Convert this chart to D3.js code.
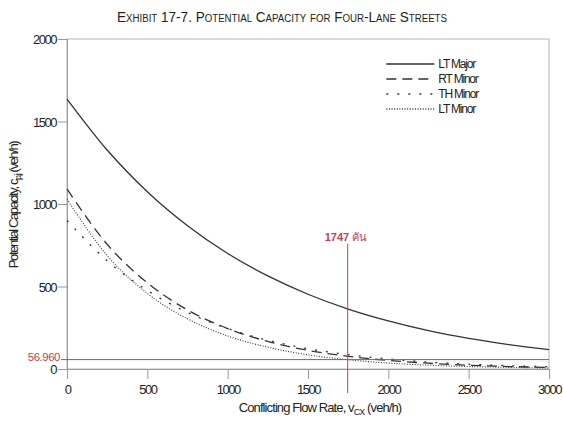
<!DOCTYPE html>
<html>
<head>
<meta charset="utf-8">
<script src="https://cdn.jsdelivr.net/npm/d3@7"></script>
<style>
  body { margin: 0; background: #fff; }
  svg { display: block; }
  .narrow { font-family: "Liberation Sans", Arial, sans-serif; }
</style>
</head>
<body>
<svg id="chart"></svg>
<script>
// conflicting flow rate (veh/h)
const flows = [0, 250, 500, 750, 1000, 1250, 1500, 1750, 2000, 2250, 2500, 2750, 3000];
// potential capacity (veh/h)
const ltMajor = [1636, 1327, 1074, 868, 700, 564, 453, 363, 291, 232, 185, 148, 117];
const rtMinor = [1091, 756, 522, 358, 245, 167, 113, 77, 52, 35, 23, 15, 10];
const thMinor = [900, 656, 476, 343, 245, 174, 123, 87, 61, 42, 29, 20, 14];
const ltMinor = [1029, 688, 458, 304, 200, 132, 86, 56, 36, 23, 15, 10, 6];

const seriesNames = ["LT Major", "RT Minor", "TH Minor", "LT Minor"];
const seriesValues = [ltMajor, rtMinor, thMinor, ltMinor];
const dashes = [null, "10,6", "2,9", "1,1.6"];

const xTicks = [0, 500, 1000, 1500, 2000, 2500, 3000];
const yTicks = [0, 500, 1000, 1500, 2000];

const markFlow = 1747;
const markCap = 56.960;

let svgWidth = 563, svgHeight = 423;
let margin = { top: 39, right: 14, bottom: 54, left: 67 };
let width = svgWidth - margin.left - margin.right;
let height = svgHeight - margin.top - margin.bottom;

let svg = d3.select("#chart")
  .attr("width", svgWidth)
  .attr("height", svgHeight);

let g = svg.append("g")
  .attr("transform", "translate(" + margin.left + "," + margin.top + ")");

let x = d3.scaleLinear().domain([0, 3000]).range([0, width]);
let y = d3.scaleLinear().domain([0, 2000]).range([height, 0]);

const grey = "#9a9a9a";
const ink = "#333";
const red = "#c8414b";

// frame
g.append("rect")
  .attr("width", width)
  .attr("height", height)
  .attr("fill", "none")
  .attr("stroke", "#b5b5b5");

let xAxis = g.append("g")
  .attr("class", "narrow")
  .attr("transform", "translate(0," + height + ")")
  .call(d3.axisBottom(x).tickValues(xTicks).tickSize(10).tickPadding(6).tickFormat(d3.format("d")));

let yAxis = g.append("g")
  .attr("class", "narrow")
  .call(d3.axisLeft(y).tickValues(yTicks).tickSize(9).tickPadding(2).tickFormat(d3.format("d")));

[xAxis, yAxis].forEach(a => {
  a.select(".domain").attr("stroke", grey);
  a.selectAll(".tick line").attr("stroke", grey);
  a.selectAll(".tick text")
    .attr("fill", "#222")
    .style("font-size", "13px")
    .style("letter-spacing", "-1.5px");
});
yAxis.selectAll(".tick text").attr("dy", "0.36em");

// curves
let line = d3.line()
  .x((d, i) => x(flows[i]))
  .y(d => y(d))
  .curve(d3.curveMonotoneX);

seriesValues.forEach((vals, k) => {
  g.append("path")
    .datum(vals)
    .attr("fill", "none")
    .attr("stroke", ink)
    .attr("stroke-width", k === 3 ? 1.1 : 1.3)
    .attr("stroke-dasharray", dashes[k])
    .attr("d", line);
});

// red reference lines
g.append("line")
  .attr("x1", -6).attr("x2", width)
  .attr("y1", y(markCap)).attr("y2", y(markCap))
  .attr("stroke", red).attr("stroke-width", 1);

g.append("line")
  .attr("x1", x(markFlow)).attr("x2", x(markFlow))
  .attr("y1", y(760)).attr("y2", height + 24)
  .attr("stroke", red).attr("stroke-width", 1);

g.append("text")
  .attr("class", "narrow")
  .attr("x", -7)
  .attr("y", y(markCap))
  .attr("dy", "0.12em")
  .attr("text-anchor", "end")
  .attr("fill", red)
  .style("font-size", "11.5px")
  .style("letter-spacing", "-0.5px")
  .text(d3.format(".3f")(markCap));

let markLabel = g.append("text")
  .attr("x", x(markFlow) - 23)
  .attr("y", y(760) - 3)
  .attr("fill", red)
  .style("font-family", "'Liberation Sans', 'Noto Sans', sans-serif")
  .style("font-size", "11px")
  .style("font-weight", "bold");
markLabel.append("tspan").text(markFlow + " ");
markLabel.append("tspan").style("font-weight", "normal").text("คัน");

// legend
let legend = g.append("g")
  .attr("class", "narrow")
  .attr("transform", "translate(" + (x(2000) - 2) + ",25)");

seriesNames.forEach((name, k) => {
  let row = legend.append("g").attr("transform", "translate(0," + (k * 15) + ")");
  row.append("line")
    .attr("x1", 0).attr("x2", 48)
    .attr("stroke", ink)
    .attr("stroke-width", 1.3)
    .attr("stroke-dasharray", dashes[k]);
  row.append("text")
    .attr("x", 52)
    .attr("dy", "0.36em")
    .attr("fill", "#222")
    .style("font-size", "12px")
    .style("letter-spacing", "-1.2px")
    .text(name);
});

// title
svg.append("text")
  .attr("class", "narrow")
  .attr("x", 282)
  .attr("y", 22)
  .attr("text-anchor", "middle")
  .attr("fill", "#222")
  .attr("textLength", 330)
  .attr("lengthAdjust", "spacingAndGlyphs")
  .style("font-size", "14px")
  .style("font-variant", "small-caps")
  .text("Exhibit 17-7.  Potential Capacity for Four-Lane Streets");

// axis titles
let yTitle = svg.append("text")
  .attr("class", "narrow")
  .attr("transform", "translate(18,205) rotate(-90)")
  .attr("text-anchor", "middle")
  .attr("fill", "#222")
  .style("font-size", "13px")
  .style("letter-spacing", "-1.4px");
yTitle.append("tspan").text("Potential Capacity, c");
yTitle.append("tspan").attr("dy", 3).style("font-size", "9px").text("p,j");
yTitle.append("tspan").attr("dy", -3).text(" (veh/h)");

let xTitle = svg.append("text")
  .attr("class", "narrow")
  .attr("x", 320)
  .attr("y", 412)
  .attr("text-anchor", "middle")
  .attr("fill", "#222")
  .style("font-size", "13px")
  .style("letter-spacing", "-0.9px");
xTitle.append("tspan").text("Conflicting Flow Rate, v");
xTitle.append("tspan").attr("dy", 3).style("font-size", "9px").text("CX");
xTitle.append("tspan").attr("dy", -3).text(" (veh/h)");
</script>
</body>
</html>
